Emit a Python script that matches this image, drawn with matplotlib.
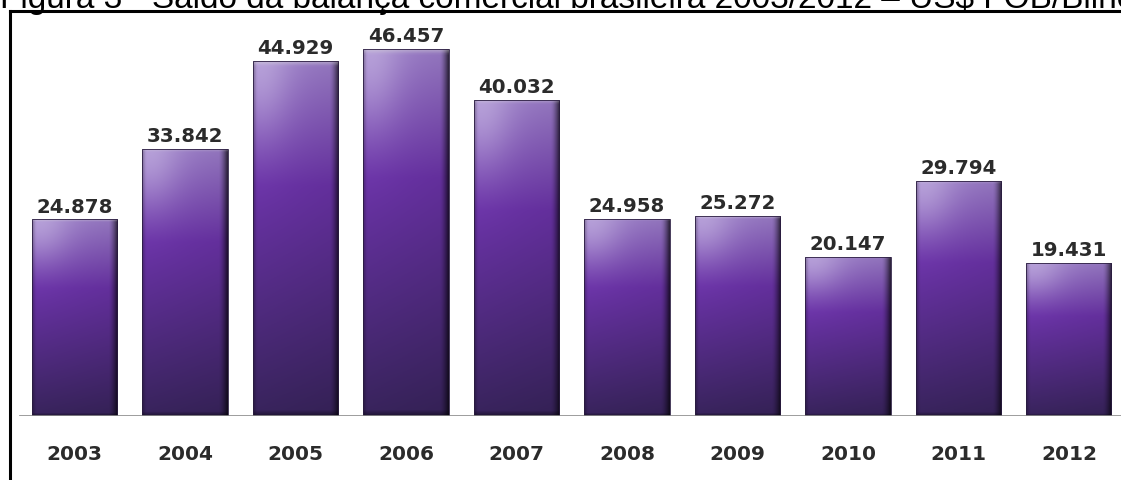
import matplotlib
matplotlib.use("Agg")
import matplotlib.pyplot as plt
import numpy as np
from matplotlib.patches import Rectangle
from matplotlib.lines import Line2D

# data
years = ["2003", "2004", "2005", "2006", "2007", "2008", "2009", "2010", "2011", "2012"]
saldo = [24.878, 33.842, 44.929, 46.457, 40.032, 24.958, 25.272, 20.147, 29.794, 19.431]
labels = ["24.878", "33.842", "44.929", "46.457", "40.032", "24.958", "25.272", "20.147", "29.794", "19.431"]
title = "Figura 3 - Saldo da balança comercial brasileira 2003/2012 \u2013 US$ FOB/Bilhões"

W, H = 1121, 481
fig = plt.figure(figsize=(W / 100, H / 100), dpi=100)
fig.patch.set_facecolor("white")

# axes placed so baseline sits at y=417px and top at the frame (y=12px)
ax = fig.add_axes([10 / W, (H - 417) / H, (W - 10) / W, (417 - 12) / H])
ax.set_xlim(-0.584, 9.471)
ax.set_ylim(0, 51.27)
ax.axis("off")

bw = 0.77


def bar_image(n=200, m=60):
    # vertical: light lavender at top -> purple -> dark at bottom
    t = np.linspace(0, 1, n)[:, None]
    top = np.array([0.62, 0.50, 0.80])
    mid = np.array([0.42, 0.20, 0.66])
    bot = np.array([0.22, 0.14, 0.36])
    a = np.clip(t / 0.35, 0, 1)
    b = np.clip((t - 0.35) / 0.65, 0, 1)
    col = np.where(t < 0.35, 1, 0)[..., None] * (top + (mid - top) * a[..., None]) + \
        np.where(t >= 0.35, 1, 0)[..., None] * (mid + (bot - mid) * b[..., None])
    col = np.repeat(col, m, axis=1)
    s = np.linspace(0, 1, m)[None, :]
    # soft whitish highlight in the top-left corner
    hl = np.exp(-((s - 0.1) ** 2 / 0.12 + t ** 2 / 0.04))
    col = col + (np.array([0.80, 0.74, 0.90]) - col) * 0.55 * hl[..., None]
    # dark right edge, slight dark left edge
    shade = 1.0 - 0.08 * s - 0.6 * np.clip((s - 0.9) / 0.1, 0, 1) ** 1.5
    shade = shade - 0.25 * np.clip((0.04 - s) / 0.04, 0, 1)
    col = col * shade[..., None]
    # dark bottom rim
    rim = np.clip((t - 0.985) / 0.015, 0, 1)
    col = col * (1 - 0.4 * rim[..., None])
    # light top rim
    tr = np.clip((0.012 - t) / 0.012, 0, 1)
    col = col + (0.85 - col) * 0.4 * tr[..., None]
    return np.clip(col, 0, 1)


img = bar_image()
for i, v in enumerate(saldo):
    x0 = i - bw / 2
    rect = Rectangle((x0, 0), bw, v, facecolor="none", edgecolor="#2a1c40", lw=0.6, zorder=3)
    ax.add_patch(rect)
    im = ax.imshow(img, extent=(x0, x0 + bw, 0, v), aspect="auto", zorder=2, interpolation="bilinear")
    im.set_clip_path(rect)
    ax.text(i, v + 0.5, labels[i], ha="center", va="bottom", fontsize=14.2,
            fontweight="bold", color="#2b2b2b", family="DejaVu Sans")
    ax.text(i, -4.8, years[i], ha="center", va="center", fontsize=14.5,
            fontweight="bold", color="#2b2b2b", family="DejaVu Sans")

# baseline
ax.axhline(0, xmin=(20 - 10) / (W - 10), xmax=1, color="#8c8c8c", lw=1.2, zorder=4)

# frame lines
fig.add_artist(Line2D([10 / W, 1], [1 - 12 / H, 1 - 12 / H], color="black", lw=2.2))
fig.add_artist(Line2D([10 / W, 10 / W], [0, 1 - 12 / H], color="black", lw=2.2))

# title, cut off by the top edge as in the original figure
fig.text(0.0, 1 - 8 / H, title, ha="left", va="baseline", fontsize=24,
         family="Liberation Sans", color="black")

fig.savefig("out.png", dpi=100, facecolor="white")
